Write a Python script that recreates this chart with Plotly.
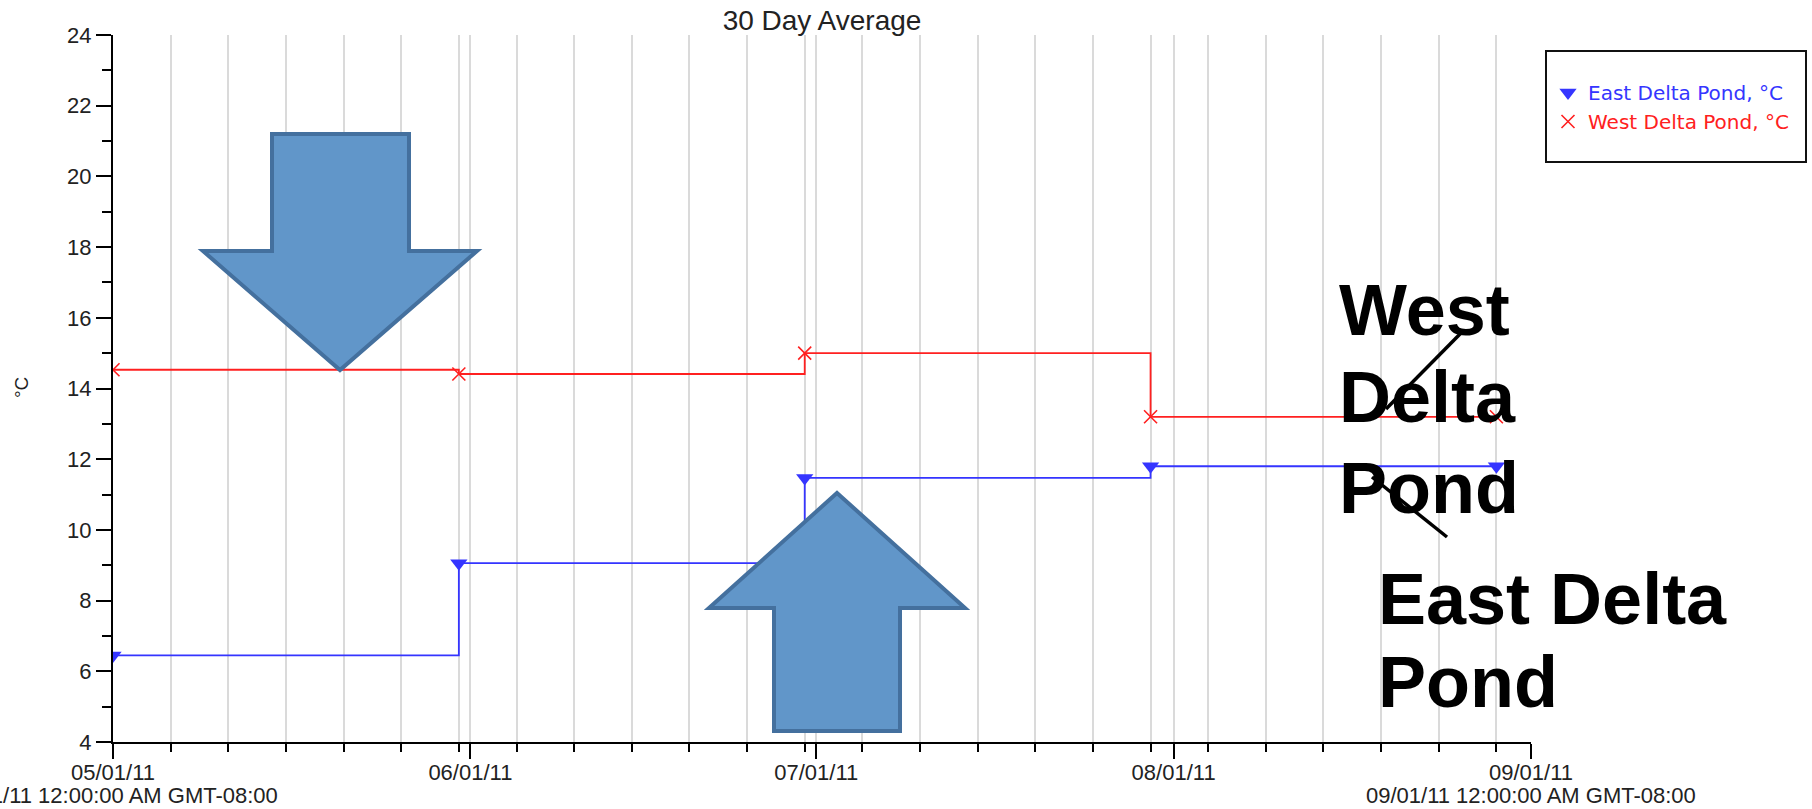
import plotly.graph_objects as go

# ---------------- data ----------------
dates = ['2011-05-01', '2011-05-31', '2011-06-30', '2011-07-30', '2011-08-29']
east_vals = [6.45, 9.06, 11.47, 11.8, 11.8]
west_vals = [14.53, 14.41, 15.0, 13.2, 13.2]
east_name = 'East Delta Pond, °C'
west_name = 'West Delta Pond, °C'

month_ticks = ['2011-05-01', '2011-06-01', '2011-07-01', '2011-08-01', '2011-09-01']
month_labels = ['05/01/11', '06/01/11', '07/01/11', '08/01/11', '09/01/11']
range_labels = ['05/01/11 12:00:00 AM GMT-08:00', '09/01/11 12:00:00 AM GMT-08:00']
minor_ticks = ['2011-05-01', '2011-05-06', '2011-05-11', '2011-05-16', '2011-05-21',
               '2011-05-26', '2011-05-31', '2011-06-05', '2011-06-10', '2011-06-15',
               '2011-06-20', '2011-06-25', '2011-06-30', '2011-07-05', '2011-07-10',
               '2011-07-15', '2011-07-20', '2011-07-25', '2011-07-30', '2011-08-04',
               '2011-08-09', '2011-08-14', '2011-08-19', '2011-08-24', '2011-08-29']
title_text = '30 Day Average'
y_title = '°C'
west_label = ['West', 'Delta', 'Pond']
east_label = ['East Delta', 'Pond']

# ---------------- layout helpers ----------------
W, H = 1812, 809
L, R, T, B = 113, 1531, 35, 742
BLUE = '#3535ff'
RED = '#ff2020'
ARROW_FILL = '#6196c9'
ARROW_LINE = '#44709e'
FONT = 'Liberation Sans, Arial, sans-serif'


def px(x):
    return (x - L) / (R - L)


def py(y):
    return (B - y) / (B - T)


def path(points):
    return 'M ' + ' L '.join(f'{px(a):.5f},{py(b):.5f}' for a, b in points) + ' Z'


fig = go.Figure()

fig.add_trace(go.Scatter(
    x=dates, y=east_vals, mode='lines+markers', line=dict(color=BLUE, width=1.8, shape='hv'),
    marker=dict(symbol='triangle-down', size=15, color=BLUE), showlegend=False, name=east_name))
fig.add_trace(go.Scatter(
    x=dates, y=west_vals, mode='lines+markers', line=dict(color=RED, width=1.8, shape='hv'),
    marker=dict(symbol='x-thin-open', size=13, color=RED, line=dict(color=RED, width=1.6)),
    showlegend=False, name=west_name))

# legend-only entries (markers only, like the original legend)
fig.add_trace(go.Scatter(
    x=[None], y=[None], mode='markers',
    marker=dict(symbol='triangle-down', size=15, color=BLUE),
    name=f'<span style="color:{BLUE}">{east_name}</span>'))
fig.add_trace(go.Scatter(
    x=[None], y=[None], mode='markers',
    marker=dict(symbol='x-thin-open', size=13, color=RED, line=dict(color=RED, width=1.6)),
    name=f'<span style="color:{RED}">{west_name}</span>'))

shapes = []
# legend frame
shapes.append(dict(type='rect', xref='paper', yref='paper', x0=px(1546), x1=px(1806),
                   y0=py(51), y1=py(162), line=dict(color='#111', width=2), fillcolor='rgba(0,0,0,0)'))
# big arrows
down_arrow = [(272, 134), (409, 134), (409, 251), (477, 251), (340, 370), (203, 251), (272, 251)]
up_arrow = [(837, 493), (965, 608), (900, 608), (900, 731), (774, 731), (774, 608), (709, 608)]
for pts in (down_arrow, up_arrow):
    shapes.append(dict(type='path', xref='paper', yref='paper', path=path(pts),
                       fillcolor=ARROW_FILL, line=dict(color=ARROW_LINE, width=4), layer='above'))
# connector lines
for (a, b), (c, d) in (((1462, 332), (1386, 409)), ((1372, 477), (1447, 537))):
    shapes.append(dict(type='line', xref='paper', yref='paper', x0=px(a), y0=py(b), x1=px(c), y1=py(d),
                       line=dict(color='black', width=3.5), layer='above'))

annotations = [dict(text=y_title, xref='paper', yref='paper', x=px(21), y=py(388), showarrow=False,
                    xanchor='center', yanchor='middle', textangle=-90,
                    font=dict(family=FONT, size=19, color='#222'))]
# full date-time labels under the first and last ticks
for txt, xp in zip(range_labels, (0, 1)):
    annotations.append(dict(text=txt, xref='paper', yref='paper', x=xp, y=py(795), showarrow=False,
                            xanchor='center', yanchor='middle',
                            font=dict(family=FONT, size=22, color='#222')))
big_font = dict(family=FONT, size=72, color='black', weight='bold')
for txt, cy in zip(west_label, (310, 397, 488)):
    annotations.append(dict(text=f'<b>{txt}</b>', xref='paper', yref='paper', x=px(1337), y=py(cy),
                            xanchor='left', yanchor='middle', showarrow=False, font=big_font))
for txt, cy in zip(east_label, (599, 682)):
    annotations.append(dict(text=f'<b>{txt}</b>', xref='paper', yref='paper', x=px(1376), y=py(cy),
                            xanchor='left', yanchor='middle', showarrow=False, font=big_font))

fig.update_layout(
    width=W, height=H,
    margin=dict(l=L, r=W - R, t=T, b=H - B, autoexpand=False),
    paper_bgcolor='white', plot_bgcolor='white',
    title=dict(text=title_text, x=0.5, xref='paper', xanchor='center', y=1 - 20 / H, yref='container',
               yanchor='middle', font=dict(family=FONT, size=28, color='#222')),
    showlegend=True,
    legend=dict(x=px(1548), y=py(73), xanchor='left', yanchor='top', bgcolor='rgba(0,0,0,0)',
                borderwidth=0, font=dict(family='DejaVu Sans, Verdana, sans-serif', size=20),
                tracegroupgap=0, itemclick=False),
    shapes=shapes,
    annotations=annotations,
    xaxis=dict(
        type='date', range=[month_ticks[0], month_ticks[-1]], tickmode='array',
        tickvals=month_ticks, ticktext=month_labels, ticks='outside', ticklen=15, tickwidth=1.6,
        tickcolor='black', showline=True, linecolor='black', linewidth=2, showgrid=True,
        gridcolor='#dadada', gridwidth=1.5, zeroline=False, ticklabeloverflow='allow',
        ticklabelstandoff=-5,
        tickfont=dict(family=FONT, size=22, color='#222'),
        minor=dict(tickmode='array', tickvals=minor_ticks, ticks='outside', ticklen=8,
                   tickwidth=1.6, tickcolor='black', showgrid=True, gridcolor='#dadada', gridwidth=1.5),
    ),
    yaxis=dict(
        range=[4, 24], tickmode='linear', tick0=4, dtick=2, ticks='outside', ticklen=15,
        tickwidth=1.6, tickcolor='black', showline=True, linecolor='black', linewidth=2,
        showgrid=False, zeroline=False, tickfont=dict(family=FONT, size=22, color='#222'),
        minor=dict(dtick=1, tick0=4, ticks='outside', ticklen=9, tickwidth=1.6, tickcolor='black',
                   showgrid=False),
    ),
)

fig.write_html('out.html', config={'displayModeBar': False},
               post_script="document.body.style.margin='0';document.body.style.overflow='hidden';")
